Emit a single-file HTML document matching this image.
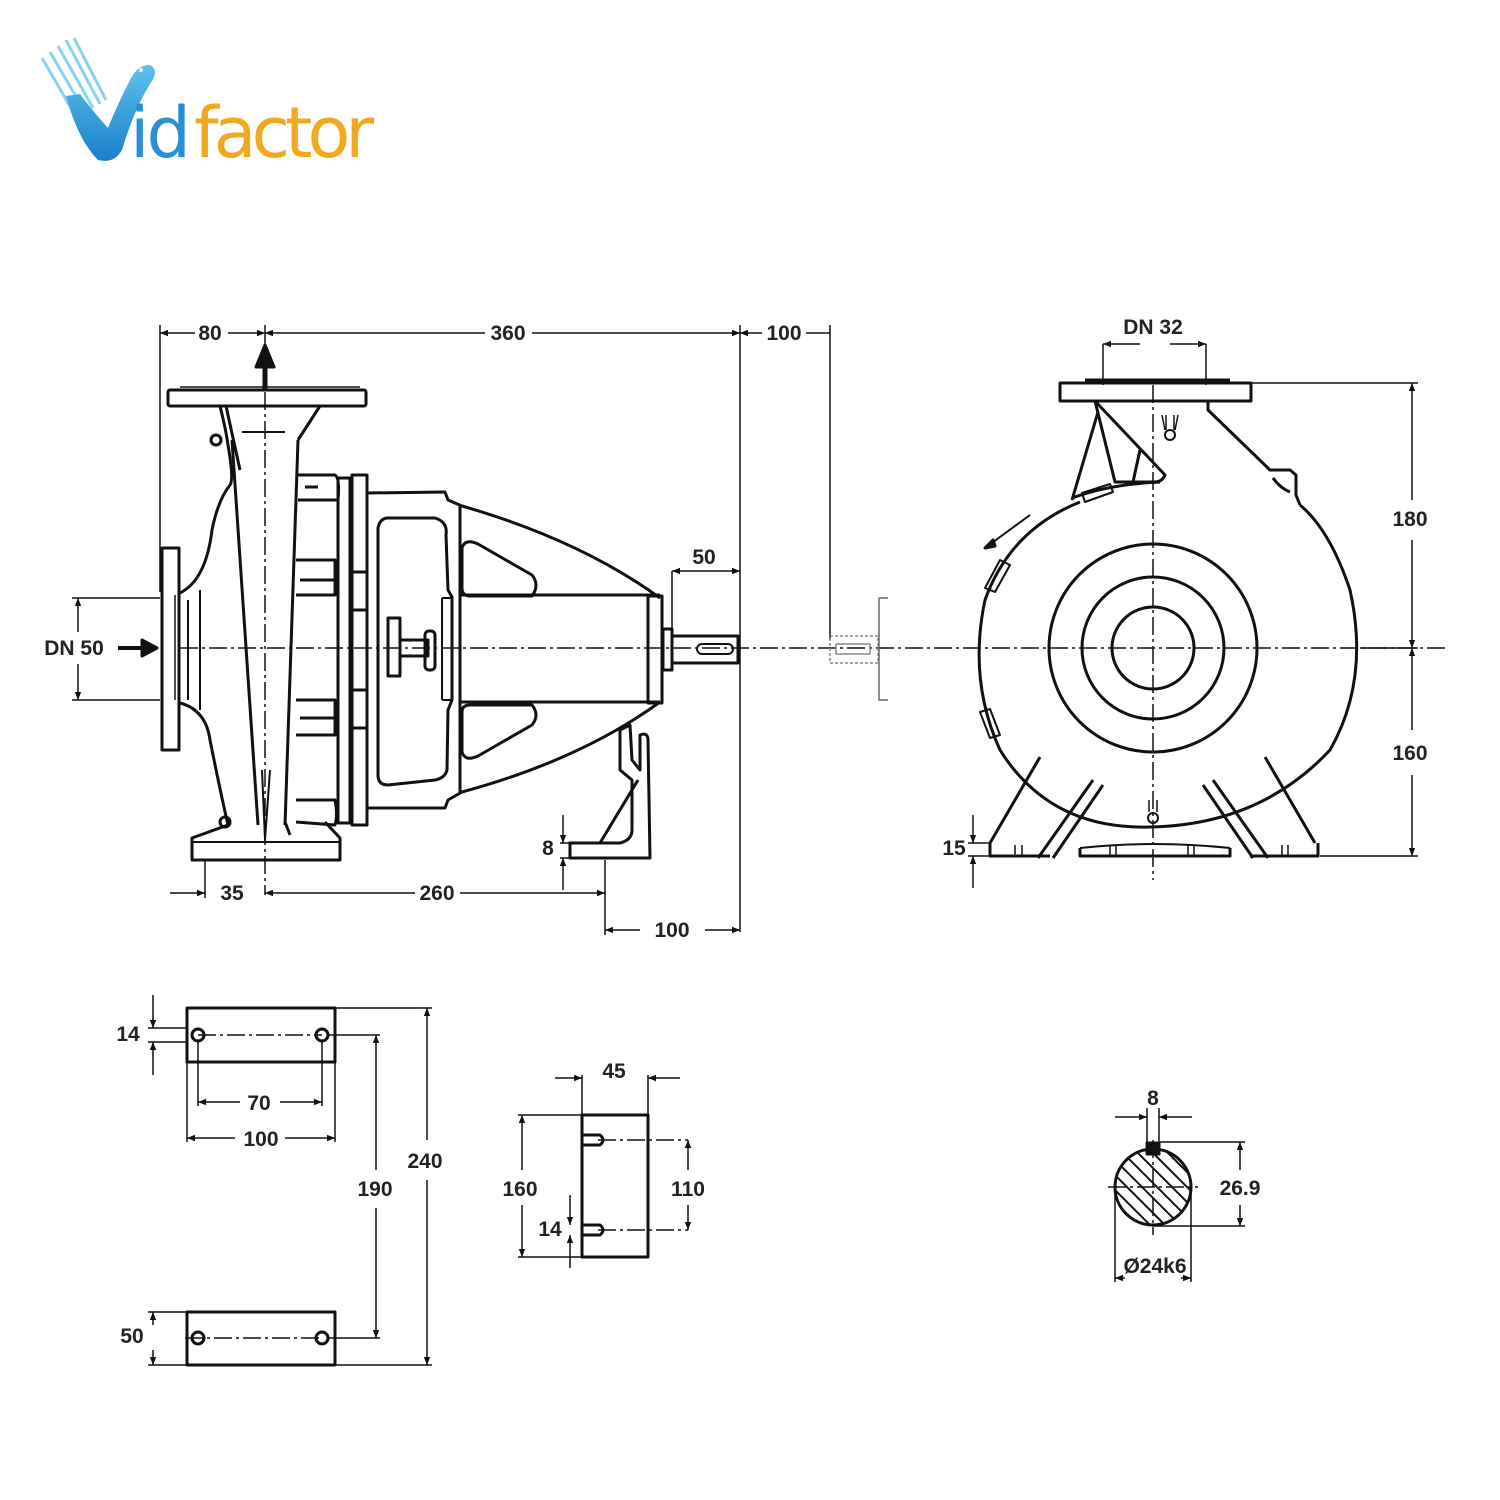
<!DOCTYPE html>
<html><head><meta charset="utf-8"><style>
html,body{margin:0;padding:0;background:#fff;}
svg{display:block}
text{font-family:"Liberation Sans",sans-serif;font-weight:bold;font-size:21px;fill:#222;}
</style></head><body>
<svg width="1500" height="1500" viewBox="0 0 1500 1500" xmlns="http://www.w3.org/2000/svg">
<defs>
<marker id="a" viewBox="0 0 10 10" refX="10" refY="5" markerWidth="12" markerHeight="8" orient="auto-start-reverse" markerUnits="userSpaceOnUse"><path d="M0,1 L10,5 L0,9 Z" fill="#111"/></marker>
<linearGradient id="bl" x1="0" y1="0" x2="0" y2="1"><stop offset="0" stop-color="#5cc3ee"/><stop offset="1" stop-color="#1a7fc8"/></linearGradient>
<clipPath id="sc"><circle cx="1153" cy="1187" r="38"/></clipPath>
</defs>
<rect width="1500" height="1500" fill="#fff"/>

<!-- logo -->
<g>
<g stroke="#6cc8f0" stroke-width="3" opacity="0.8">
<line x1="42" y1="58" x2="75" y2="115"/><line x1="50" y1="52" x2="85" y2="112"/><line x1="58" y1="46" x2="93" y2="108"/><line x1="66" y1="40" x2="100" y2="104"/><line x1="74" y1="38" x2="106" y2="100"/>
</g>
<path d="M66,96 Q78,140 98,160 Q114,164 122,150 Q134,110 150,84 Q160,70 150,65 Q138,64 130,80 Q115,110 108,128 Q96,115 80,94 Z" fill="url(#bl)"/>
<circle cx="141" cy="70" r="2" fill="#fff"/>
<text x="130" y="157" style="font-weight:normal;font-size:70px;fill:#2a8fd4;font-family:'DejaVu Sans',sans-serif;letter-spacing:-3px">id</text>
<text x="194" y="157" style="font-weight:normal;font-size:70px;fill:#f0a820;font-family:'DejaVu Sans',sans-serif;letter-spacing:-5px">factor</text>
</g>

<g fill="none" stroke="#111" stroke-width="3" stroke-linejoin="round">
<!-- centerlines -->
<g stroke-width="1.5" stroke-dasharray="18,4,3,4">
<line x1="180" y1="648" x2="1448" y2="648"/>
<line x1="265" y1="392" x2="265" y2="895"/>
<line x1="1153" y1="385" x2="1153" y2="880"/>
<line x1="198" y1="1035" x2="322" y2="1035"/>
<line x1="185" y1="1338" x2="322" y2="1338"/>
<line x1="598" y1="1140" x2="688" y2="1140"/>
<line x1="598" y1="1230" x2="688" y2="1230"/>
<line x1="1108" y1="1187" x2="1198" y2="1187"/>
<line x1="1153" y1="1140" x2="1153" y2="1235"/>
</g>

<!-- TOP DIMENSIONS -->
<g stroke-width="1.5">
<line x1="160" y1="325" x2="160" y2="592"/>
<line x1="740" y1="325" x2="740" y2="932"/>
<line x1="830" y1="325" x2="830" y2="640"/>
<line x1="265" y1="325" x2="265" y2="345"/>
<line x1="195" y1="333" x2="160" y2="333" marker-end="url(#a)"/>
<line x1="228" y1="333" x2="265" y2="333" marker-end="url(#a)"/>
<line x1="300" y1="333" x2="265" y2="333" marker-end="url(#a)"/>
<line x1="300" y1="333" x2="485" y2="333"/>
<line x1="532" y1="333" x2="740" y2="333" marker-end="url(#a)"/>
<line x1="762" y1="333" x2="740" y2="333" marker-end="url(#a)"/>
<line x1="806" y1="333" x2="830" y2="333"/>
<line x1="72" y1="598" x2="160" y2="598"/>
<line x1="72" y1="700" x2="160" y2="700"/>
<line x1="78" y1="632" x2="78" y2="598" marker-end="url(#a)"/>
<line x1="78" y1="664" x2="78" y2="700" marker-end="url(#a)"/>
<line x1="672" y1="571" x2="672" y2="632"/>
<line x1="705" y1="571" x2="672" y2="571" marker-end="url(#a)"/>
<line x1="705" y1="571" x2="740" y2="571" marker-end="url(#a)"/>
<line x1="205" y1="860" x2="205" y2="898"/>
<line x1="605" y1="860" x2="605" y2="935"/>
<line x1="170" y1="893" x2="205" y2="893" marker-end="url(#a)"/>
<line x1="300" y1="893" x2="265" y2="893" marker-end="url(#a)"/>
<line x1="300" y1="893" x2="415" y2="893"/>
<line x1="460" y1="893" x2="605" y2="893" marker-end="url(#a)"/>
<line x1="640" y1="930" x2="605" y2="930" marker-end="url(#a)"/>
<line x1="705" y1="930" x2="740" y2="930" marker-end="url(#a)"/>
<line x1="560" y1="843" x2="605" y2="843"/>
<line x1="560" y1="858" x2="605" y2="858"/>
<line x1="563" y1="815" x2="563" y2="843" marker-end="url(#a)"/>
<line x1="563" y1="890" x2="563" y2="858" marker-end="url(#a)"/>
<line x1="1103" y1="344" x2="1103" y2="385"/>
<line x1="1206" y1="344" x2="1206" y2="385"/>
<line x1="1140" y1="344" x2="1103" y2="344" marker-end="url(#a)"/>
<line x1="1170" y1="344" x2="1206" y2="344" marker-end="url(#a)"/>
<line x1="1251" y1="383" x2="1418" y2="383"/>
<line x1="1320" y1="856" x2="1418" y2="856"/>
<line x1="1360" y1="648" x2="1418" y2="648"/>
<line x1="1412" y1="500" x2="1412" y2="383" marker-end="url(#a)"/>
<line x1="1412" y1="540" x2="1412" y2="648" marker-end="url(#a)"/>
<line x1="1412" y1="730" x2="1412" y2="648" marker-end="url(#a)"/>
<line x1="1412" y1="775" x2="1412" y2="856" marker-end="url(#a)"/>
<line x1="968" y1="843" x2="990" y2="843"/>
<line x1="968" y1="856" x2="990" y2="856"/>
<line x1="973" y1="815" x2="973" y2="843" marker-end="url(#a)"/>
<line x1="973" y1="888" x2="973" y2="856" marker-end="url(#a)"/>
</g>

<line x1="118" y1="648" x2="145" y2="648" stroke-width="4"/>
<path d="M142,640 L157,648 L142,656 Z" fill="#111"/>
<line x1="265" y1="390" x2="265" y2="364" stroke-width="5"/>
<path d="M256,367 L265,345 L274,367 Z" fill="#111"/>

<!-- LEFT PUMP -->
<rect x="168" y="390" width="198" height="16" rx="2"/>
<line x1="180" y1="387" x2="360" y2="387" stroke-width="1.5"/>
<rect x="162" y="548" width="17" height="202"/>
<line x1="175" y1="595" x2="175" y2="700" stroke-width="1.5"/>
<path d="M220,406 Q226,430 228,445 Q234,480 230,485 Q218,500 212,530 Q206,580 180,593"/>
<path d="M180,703 Q206,710 210,740 Q220,790 228,825"/>
<path d="M188,600 L188,700" stroke-width="2"/>
<path d="M200,590 L200,710" stroke-width="2"/>
<path d="M232,440 L258,825"/>
<path d="M298,440 L285,825"/>
<path d="M226,406 L240,470"/>
<path d="M320,406 L298,440"/>
<path d="M242,432 L285,432" stroke-width="2"/>
<path d="M262,770 L265,840 L270,770" stroke-width="2"/>
<circle cx="216" cy="440" r="5"/>
<circle cx="225" cy="822" r="5"/>
<path d="M298,475 L335,475 Q340,478 338,500 L298,500"/>
<line x1="305" y1="487" x2="318" y2="487" stroke-width="3"/>
<path d="M296,560 L335,560 L335,595 L296,595 M300,580 L335,580"/>
<path d="M296,700 L335,700 L335,735 L296,735 M300,718 L335,718"/>
<path d="M296,800 L335,800 Q338,815 335,825 L296,822"/>
<path d="M228,825 L192,838 L192,860 L340,860 L340,838 L325,822 M285,822 L290,835"/>
<line x1="192" y1="842" x2="340" y2="842" stroke-width="2"/>
<rect x="338" y="478" width="12" height="345"/>
<rect x="352" y="475" width="15" height="350"/>
<line x1="352" y1="572" x2="367" y2="572"/><line x1="352" y1="610" x2="367" y2="610"/>
<line x1="352" y1="690" x2="367" y2="690"/><line x1="352" y1="728" x2="367" y2="728"/>
<path d="M367,493 L445,492 L448,500 L462,506 Q580,540 660,598"/>
<path d="M367,808 L445,808 L448,800 L462,792 Q580,760 660,702"/>
<line x1="460" y1="506" x2="460" y2="792"/>
<path d="M388,518 L435,518 Q448,522 446,535 L448,590 L452,597 L452,700 L448,710 L447,770 Q445,778 435,780 L388,785 Q378,785 378,775 L378,528 Q380,518 388,518 Z"/>
<path d="M442,598 L452,598 M442,700 L452,700 M442,598 L442,700" stroke-width="2"/>
<path d="M462,548 Q465,538 478,544 L532,575 Q540,585 532,596 L470,596 Q462,596 462,588 Z"/>
<path d="M462,752 Q465,762 478,756 L532,725 Q540,715 532,705 L470,705 Q462,705 462,712 Z"/>
<line x1="460" y1="595" x2="660" y2="595"/>
<line x1="460" y1="702" x2="660" y2="702"/>
<rect x="648" y="596" width="14" height="107"/>
<rect x="388" y="618" width="12" height="58"/>
<rect x="400" y="640" width="28" height="16"/>
<rect x="425" y="631" width="10" height="39" rx="4"/>
<rect x="663" y="629" width="9" height="41"/>
<rect x="672" y="636" width="66" height="27"/>
<rect x="697" y="644" width="36" height="10" rx="5" stroke-width="2"/>
<path d="M620,730 L630,725 L632,760 L640,770 L640,735 Q648,732 648,740 L650,858 L570,858 L570,843 L620,843 Q632,840 632,830 L632,780 L620,770 Z"/>
<line x1="600" y1="843" x2="638" y2="780"/>

<rect x="830" y="636" width="48" height="27" stroke="#888" stroke-width="1.5" stroke-dasharray="3,2"/>
<rect x="836" y="644" width="34" height="10" stroke="#888" stroke-width="1.5"/>
<path d="M888,598 L879,598 L879,700 L888,700" stroke="#666" stroke-width="1.5"/>

<!-- RIGHT VIEW -->
<rect x="1060" y="383" width="191" height="18"/>
<line x1="1085" y1="380" x2="1230" y2="380" stroke-width="3"/>
<path d="M1095,401 L1165,475 Q1162,482 1155,482 L1115,482 L1095,401"/>
<path d="M1098,412 L1072,500"/>
<path d="M1140,450 L1133,482"/>
<path d="M1208,401 L1208,410 L1270,470 L1290,470 L1296,475 L1296,495 L1300,505"/>
<path d="M1273,478 Q1280,488 1290,492"/>
<path d="M1072,498 Q1110,484 1160,482 M1080,502 Q1010,530 985,600 Q968,680 1000,750 Q1050,830 1150,827 Q1260,825 1330,750 Q1370,680 1350,590 Q1330,530 1300,505"/>
<path d="M1082,493 L1110,484 L1113,492 L1085,502 Z" stroke-width="2"/>
<path d="M1000,560 L1010,565 L995,592 L985,588 Z" stroke-width="2"/>
<path d="M980,712 L990,709 L1000,735 L990,738 Z" stroke-width="2"/>
<path d="M985,548 L1030,515" stroke-width="2"/>
<path d="M985,548 L993,540 L995,546 Z" fill="#111"/>
<circle cx="1153" cy="648" r="104"/>
<circle cx="1153" cy="648" r="71"/>
<circle cx="1153" cy="648" r="41"/>
<circle cx="1170" cy="435" r="5" stroke-width="2"/>
<path d="M1166,415 L1166,430 M1174,415 L1174,430 M1162,415 L1165,430 M1178,415 L1175,430" stroke-width="1.5"/>
<circle cx="1153" cy="818" r="5" stroke-width="2"/>
<path d="M1149,800 L1149,812 M1157,800 L1157,812" stroke-width="1.5"/>
<path d="M1040,757 L990,843 M1093,780 L1038,858 M1103,785 L1053,858"/>
<path d="M1265,757 L1315,843 M1213,780 L1268,858 M1203,785 L1253,858"/>
<path d="M990,843 L990,856 L1050,856 M1080,848 L1080,856 L1230,856 L1230,848 M1250,856 L1318,856 L1318,843"/>
<path d="M1080,848 Q1153,840 1230,848" stroke-width="2"/>
<g stroke-width="1.5"><line x1="1015" y1="845" x2="1015" y2="856"/><line x1="1022" y1="845" x2="1022" y2="856"/><line x1="1110" y1="845" x2="1110" y2="856"/><line x1="1116" y1="845" x2="1116" y2="856"/><line x1="1188" y1="845" x2="1188" y2="856"/><line x1="1194" y1="845" x2="1194" y2="856"/><line x1="1282" y1="845" x2="1282" y2="856"/><line x1="1288" y1="845" x2="1288" y2="856"/></g>

<!-- BOTTOM -->
<rect x="187" y="1008" width="148" height="54"/>
<rect x="187" y="1312" width="148" height="53"/>
<circle cx="198" cy="1035" r="6"/><circle cx="322" cy="1035" r="6"/>
<circle cx="198" cy="1338" r="6"/><circle cx="322" cy="1338" r="6"/>
<g stroke-width="1.5">
<line x1="198" y1="1040" x2="198" y2="1106"/><line x1="322" y1="1040" x2="322" y2="1106"/>
<line x1="187" y1="1062" x2="187" y2="1142"/><line x1="335" y1="1062" x2="335" y2="1142"/>
<line x1="240" y1="1102" x2="198" y2="1102" marker-end="url(#a)"/><line x1="280" y1="1102" x2="322" y2="1102" marker-end="url(#a)"/>
<line x1="235" y1="1138" x2="187" y2="1138" marker-end="url(#a)"/><line x1="285" y1="1138" x2="335" y2="1138" marker-end="url(#a)"/>
<line x1="148" y1="1028" x2="187" y2="1028"/><line x1="148" y1="1042" x2="187" y2="1042"/>
<line x1="153" y1="995" x2="153" y2="1028" marker-end="url(#a)"/><line x1="153" y1="1075" x2="153" y2="1042" marker-end="url(#a)"/>
<line x1="335" y1="1008" x2="432" y2="1008"/><line x1="335" y1="1365" x2="432" y2="1365"/>
<line x1="328" y1="1035" x2="380" y2="1035"/><line x1="328" y1="1338" x2="380" y2="1338"/>
<line x1="427" y1="1140" x2="427" y2="1008" marker-end="url(#a)"/><line x1="427" y1="1180" x2="427" y2="1365" marker-end="url(#a)"/>
<line x1="376" y1="1170" x2="376" y2="1035" marker-end="url(#a)"/><line x1="376" y1="1208" x2="376" y2="1338" marker-end="url(#a)"/>
<line x1="148" y1="1312" x2="187" y2="1312"/><line x1="148" y1="1365" x2="187" y2="1365"/>
<line x1="153" y1="1325" x2="153" y2="1312" marker-end="url(#a)"/><line x1="153" y1="1350" x2="153" y2="1365" marker-end="url(#a)"/>
</g>
<rect x="582" y="1115" width="66" height="142"/>
<path d="M582,1135 L600,1135 Q606,1140 600,1145 L582,1145"/>
<path d="M582,1225 L600,1225 Q606,1230 600,1235 L582,1235"/>
<g stroke-width="1.5">
<line x1="582" y1="1075" x2="582" y2="1115"/><line x1="648" y1="1075" x2="648" y2="1115"/>
<line x1="555" y1="1078" x2="582" y2="1078" marker-end="url(#a)"/><line x1="680" y1="1078" x2="648" y2="1078" marker-end="url(#a)"/>
<line x1="518" y1="1115" x2="582" y2="1115"/><line x1="518" y1="1257" x2="582" y2="1257"/>
<line x1="522" y1="1170" x2="522" y2="1115" marker-end="url(#a)"/><line x1="522" y1="1205" x2="522" y2="1257" marker-end="url(#a)"/>
<line x1="688" y1="1170" x2="688" y2="1140" marker-end="url(#a)"/><line x1="688" y1="1205" x2="688" y2="1230" marker-end="url(#a)"/>
<line x1="570" y1="1195" x2="570" y2="1225" marker-end="url(#a)"/><line x1="570" y1="1268" x2="570" y2="1235" marker-end="url(#a)"/>
</g>
<g clip-path="url(#sc)" stroke-width="2">
<line x1="1100" y1="1130" x2="1210" y2="1240"/><line x1="1100" y1="1145" x2="1210" y2="1255"/><line x1="1100" y1="1160" x2="1210" y2="1270"/><line x1="1100" y1="1175" x2="1210" y2="1285"/><line x1="1100" y1="1190" x2="1210" y2="1300"/>
<line x1="1100" y1="1115" x2="1210" y2="1225"/><line x1="1100" y1="1100" x2="1210" y2="1210"/><line x1="1100" y1="1085" x2="1210" y2="1195"/><line x1="1100" y1="1070" x2="1210" y2="1180"/><line x1="1100" y1="1055" x2="1210" y2="1165"/>
</g>
<circle cx="1153" cy="1187" r="38"/>
<rect x="1147" y="1143" width="12" height="11" fill="#111"/>
<g stroke-width="1.5">
<line x1="1147" y1="1108" x2="1147" y2="1145"/><line x1="1159" y1="1108" x2="1159" y2="1145"/>
<line x1="1115" y1="1117" x2="1147" y2="1117" marker-end="url(#a)"/><line x1="1192" y1="1117" x2="1159" y2="1117" marker-end="url(#a)"/>
<line x1="1160" y1="1142" x2="1245" y2="1142"/><line x1="1153" y1="1226" x2="1245" y2="1226"/>
<line x1="1240" y1="1170" x2="1240" y2="1142" marker-end="url(#a)"/><line x1="1240" y1="1205" x2="1240" y2="1226" marker-end="url(#a)"/>
<line x1="1115" y1="1187" x2="1115" y2="1282"/><line x1="1191" y1="1187" x2="1191" y2="1282"/>
<line x1="1125" y1="1278" x2="1115" y2="1278" marker-end="url(#a)"/><line x1="1181" y1="1278" x2="1191" y2="1278" marker-end="url(#a)"/>
</g>
</g>

<g text-anchor="middle">
<text x="210" y="340">80</text>
<text x="508" y="340">360</text>
<text x="784" y="340">100</text>
<text x="704" y="564">50</text>
<text x="74" y="655">DN 50</text>
<text x="232" y="900">35</text>
<text x="437" y="900">260</text>
<text x="548" y="855">8</text>
<text x="672" y="937">100</text>
<text x="1153" y="334">DN 32</text>
<text x="1410" y="526">180</text>
<text x="1410" y="760">160</text>
<text x="954" y="855">15</text>
<text x="128" y="1041">14</text>
<text x="259" y="1110">70</text>
<text x="261" y="1146">100</text>
<text x="425" y="1168">240</text>
<text x="375" y="1196">190</text>
<text x="132" y="1343">50</text>
<text x="614" y="1078">45</text>
<text x="520" y="1196">160</text>
<text x="688" y="1196">110</text>
<text x="550" y="1236">14</text>
<text x="1153" y="1105">8</text>
<text x="1240" y="1195">26.9</text>
<text x="1155" y="1273">Ø24k6</text>
</g>
</svg>
</body></html>
